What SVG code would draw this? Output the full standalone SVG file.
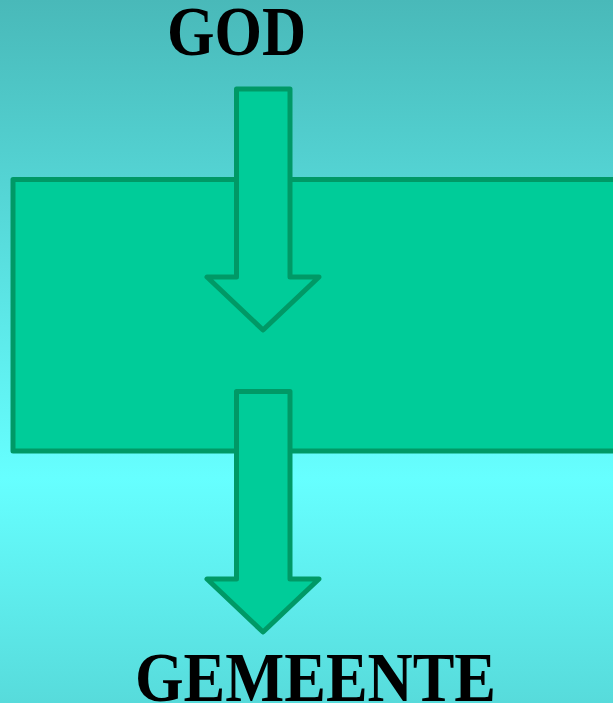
<svg xmlns="http://www.w3.org/2000/svg" width="613" height="703" viewBox="0 0 613 703">
<defs>
<linearGradient id="bg" x1="0" y1="0" x2="0" y2="1">
<stop offset="0" stop-color="#49b9b9"/>
<stop offset="0.68" stop-color="#66ffff"/>
<stop offset="1" stop-color="#57dbdb"/>
</linearGradient>
<style>
.shape{fill:#00cc99;stroke:#009966;stroke-width:5;stroke-linejoin:round}
.label{font-family:"Liberation Serif","Times New Roman",serif;font-weight:bold;font-size:70px;fill:#000}
</style>
</defs>
<rect x="0" y="0" width="613" height="703" fill="url(#bg)"/>
<g id="band">
<rect class="shape" x="13" y="179.5" width="610" height="271.5"/>
</g>
<g id="connectors">
<path id="arrow1" class="shape" d="M236.5,89 L290,89 L290,277 L319,277 L263,330 L207,277 L236.5,277 Z"/>
<path id="arrow2" class="shape" d="M236.5,391.5 L290,391.5 L290,579 L319,579 L263,632 L207,579 L236.5,579 Z"/>
</g>
<g id="god">
<text class="label" x="167" y="55" textLength="139" lengthAdjust="spacingAndGlyphs">GOD</text>
</g>
<g id="gemeente">
<text class="label" x="135" y="701" textLength="361" lengthAdjust="spacingAndGlyphs">GEMEENTE</text>
</g>
</svg>
